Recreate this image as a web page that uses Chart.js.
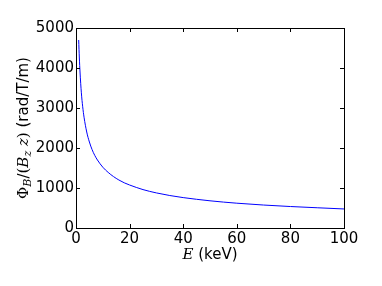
<!DOCTYPE html>
<html><head><meta charset="utf-8">
<script src="https://cdn.jsdelivr.net/npm/chart.js@4"></script>
<style>html,body{margin:0;padding:0;background:#fff}#wrap{width:382px;height:286px}</style>
</head><body><div id="wrap"><canvas id="c" width="382" height="286"></canvas></div>
<script>
const energyKeV = [1, 1.25, 1.5, 2, 2.5, 3, 4, 5, 6, 7, 8, 10, 12, 14, 16, 18, 20, 25, 30, 35, 40, 50, 60, 70, 80, 90, 100];
const phiPerBz = [4700, 4250, 3900, 3380, 3030, 2770, 2400, 2150, 1960, 1815, 1700, 1520, 1390, 1285, 1200, 1130, 1075, 960, 877, 812, 760, 680, 620, 574, 537, 506, 476];
const xTicks = [0, 20, 40, 60, 80, 100];
const yTicks = [0, 1000, 2000, 3000, 4000, 5000];

const SANS = '"DejaVu Sans", sans-serif';
const SERIF = '"DejaVu Serif", serif';
const FS = 15;

const framePlugin = {
  id: 'frame',
  afterDraw(chart) {
    const ctx = chart.ctx, a = chart.chartArea;
    const xs = chart.scales.x, ys = chart.scales.y;
    ctx.save();
    ctx.strokeStyle = '#000';
    ctx.lineWidth = 1;
    ctx.strokeRect(Math.round(a.left) + 0.5, Math.round(a.top) + 0.5, Math.round(a.right - a.left), Math.round(a.bottom - a.top));
    const L = 4;
    ctx.beginPath();
    xTicks.forEach(v => {
      const px = Math.round(xs.getPixelForValue(v)) + 0.5;
      ctx.moveTo(px, a.bottom); ctx.lineTo(px, a.bottom - L);
      ctx.moveTo(px, a.top); ctx.lineTo(px, a.top + L);
    });
    yTicks.forEach(v => {
      const py = Math.round(ys.getPixelForValue(v)) + 0.5;
      ctx.moveTo(a.left, py); ctx.lineTo(a.left + L, py);
      ctx.moveTo(a.right, py); ctx.lineTo(a.right - L, py);
    });
    ctx.stroke();

    // axis titles
    ctx.fillStyle = '#000';
    ctx.textBaseline = 'alphabetic';
    // x title
    const xParts = [
      {t: 'E', f: 'italic ' + FS + 'px ' + SERIF},
      {t: ' (keV)', f: FS + 'px ' + SANS}
    ];
    let w = 0;
    xParts.forEach(p => { ctx.font = p.f; p.w = ctx.measureText(p.t).width; w += p.w; });
    let x0 = (a.left + a.right) / 2 - w / 2;
    const yb = 259;
    xParts.forEach(p => { ctx.font = p.f; ctx.textAlign = 'left'; ctx.fillText(p.t, x0, yb); x0 += p.w; });

    // y title rotated
    const sub = Math.round(FS * 0.7);
    const yParts = [
      {t: 'Φ', f: FS + 'px ' + SERIF, dy: 0},
      {t: 'B', f: 'italic ' + sub + 'px ' + SERIF, dy: 3},
      {t: '/(', f: FS + 'px ' + SERIF, dy: 0},
      {t: 'B', f: 'italic ' + FS + 'px ' + SERIF, dy: 0},
      {t: 'z', f: 'italic ' + sub + 'px ' + SERIF, dy: 3},
      {t: ' z', f: 'italic ' + FS + 'px ' + SERIF, dy: 0},
      {t: ')', f: FS + 'px ' + SERIF, dy: 0},
      {t: ' (rad/T/m)', f: FS + 'px ' + SANS, dy: 0}
    ];
    w = 0;
    yParts.forEach(p => { ctx.font = p.f; p.w = ctx.measureText(p.t).width; w += p.w; });
    ctx.translate(28, (a.top + a.bottom) / 2);
    ctx.rotate(-Math.PI / 2);
    x0 = -w / 2;
    yParts.forEach(p => { ctx.font = p.f; ctx.textAlign = 'left'; ctx.fillText(p.t, x0, p.dy); x0 += p.w; });
    ctx.restore();
  }
};

new Chart(document.getElementById('c'), {
  type: 'scatter',
  data: {
    datasets: [{
      data: energyKeV.map((e, i) => ({x: e, y: phiPerBz[i]})),
      showLine: true,
      borderColor: '#0000ff',
      borderWidth: 1,
      pointRadius: 0,
      cubicInterpolationMode: 'monotone',
      fill: false
    }]
  },
  options: {
    responsive: false,
    animation: false,
    events: [],
    layout: {padding: {left: 0, top: 28, right: 38, bottom: 0}},
    plugins: {legend: {display: false}, tooltip: {enabled: false}},
    scales: {
      x: {
        type: 'linear', min: 0, max: 100,
        afterBuildTicks: s => { s.ticks = xTicks.map(v => ({value: v})); },
        afterFit: s => { s.height = 58; },
        grid: {display: false, drawTicks: false},
        border: {display: false},
        ticks: {color: '#000', padding: 2, maxRotation: 0, font: {family: SANS, size: FS}}
      },
      y: {
        type: 'linear', min: 0, max: 5000,
        afterBuildTicks: s => { s.ticks = yTicks.map(v => ({value: v})); },
        afterFit: s => { s.width = 76; },
        grid: {display: false, drawTicks: false},
        border: {display: false},
        ticks: {color: '#000', padding: 2, font: {family: SANS, size: FS}, callback: v => String(v)}
      }
    }
  },
  plugins: [framePlugin]
});
</script></body></html>
